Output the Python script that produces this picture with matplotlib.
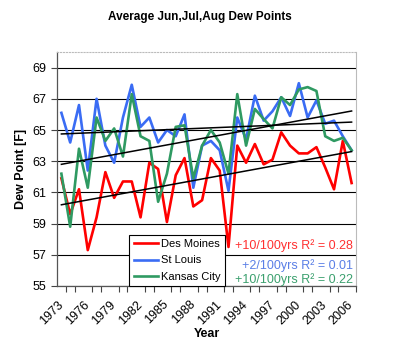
import matplotlib
matplotlib.use("Agg")
import matplotlib.pyplot as plt
import numpy as np

plt.rcParams['font.family'] = ['Liberation Sans', 'DejaVu Sans']

years = list(range(1973, 2007))

des_moines = [61.9, 59.6, 61.2, 57.3, 59.4, 62.3, 60.65, 61.7, 61.7, 59.4,
              62.9, 62.5, 59.1, 62.1, 63.2, 60.1, 60.5, 63.2, 62.4, 57.5,
              64.0, 62.9, 64.1, 62.8, 63.1, 64.85, 64.0, 63.5, 63.5, 63.9,
              62.6, 61.2, 64.3, 61.6]
st_louis = [66.1, 64.2, 66.6, 62.4, 67.0, 64.0, 62.9, 65.8, 67.9, 65.2,
            65.8, 64.2, 65.0, 64.6, 66.0, 61.3, 64.0, 64.3, 63.7, 61.1,
            65.8, 64.4, 67.2, 65.6, 66.2, 67.1, 65.9, 68.0, 65.8, 66.9,
            65.4, 65.6, 64.6, 63.7]
kansas_city = [62.2, 58.8, 63.8, 61.3, 65.8, 64.3, 65.1, 63.3, 67.3, 64.6,
               64.3, 60.4, 62.2, 65.2, 65.3, 61.9, 64.0, 65.0, 64.2, 62.2,
               67.3, 64.0, 66.35, 65.7, 65.1, 67.1, 66.6, 67.6, 67.75, 67.5,
               64.6, 64.3, 64.5, 63.7]

series = [("Des Moines", des_moines, "#ff0000"),
          ("St Louis", st_louis, "#3a6cf4"),
          ("Kansas City", kansas_city, "#2f9a62")]
notes = [("+10/100yrs R\u00b2 = 0.28", "#ff3030"),
         ("+2/100yrs R\u00b2 = 0.01", "#5a7fe6"),
         ("+10/100yrs R\u00b2 = 0.22", "#3ba06e")]

fig = plt.figure(figsize=(4.0, 3.55), dpi=100)
ax = fig.add_axes([0.1425, 0.1944, 0.7475, 0.6591])

x = np.arange(len(years))
for name, vals, col in series:
    ax.plot(x, vals, color=col, lw=1.9, label=name, zorder=3)
# linear trend lines
for name, vals, col in series:
    k, b = np.polyfit(x, vals, 1)
    ax.plot(x, k * x + b, color="black", lw=1.1, zorder=4)

ax.set_xlim(-0.5, len(years) - 0.5)
ax.set_ylim(55, 70)
ax.set_yticks(np.arange(55, 70, 2))
ax.yaxis.grid(True, color="black", lw=0.8)
ax.set_axisbelow(True)

# labels sit a bit left of the category centre, like Excel does
ax.set_xticks(x[::3] - 0.5)
ax.set_xticklabels([str(y) for y in years[::3]], rotation=45, ha="right",
                   rotation_mode="anchor", fontsize=9)
ax.set_xticks(np.arange(-0.5, len(years), 1), minor=True)
ax.tick_params(axis="x", which="major", length=0, pad=9)
ax.tick_params(axis="x", which="minor", length=4, width=0.8, color="#444444")
ax.tick_params(axis="y", length=4, width=0.8, color="#444444", labelsize=9)

for s in ["top", "right"]:
    ax.spines[s].set_color("#bbbbbb")
    ax.spines[s].set_linewidth(0.8)
ax.spines["top"].set_linestyle(":")
for s in ["left", "bottom"]:
    ax.spines[s].set_color("#555555")
    ax.spines[s].set_linewidth(0.9)

ax.set_xlabel("Year", fontsize=9, fontweight="bold", labelpad=1)
ax.set_ylabel("Dew Point [F]", fontsize=9, fontweight="bold", labelpad=4)
fig.text(0.5, 0.952, "Average Jun,Jul,Aug Dew Points", ha="center",
         va="center", fontsize=8.5, fontweight="bold")

leg = ax.legend(loc="lower left", bbox_to_anchor=(0.241, 0.0), borderaxespad=0,
                fontsize=8, fancybox=False, framealpha=1, edgecolor="black",
                handlelength=2.2, handletextpad=0.25, labelspacing=0.55,
                borderpad=0.4)
leg.get_frame().set_linewidth(0.8)
leg.set_zorder(5)

for (txt, col), yy in zip(notes, [0.171, 0.086, 0.026]):
    ax.text(0.99, yy, txt, transform=ax.transAxes, ha="right", va="center",
            color=col, fontsize=9, zorder=6)

fig.savefig("out.png", dpi=100)
